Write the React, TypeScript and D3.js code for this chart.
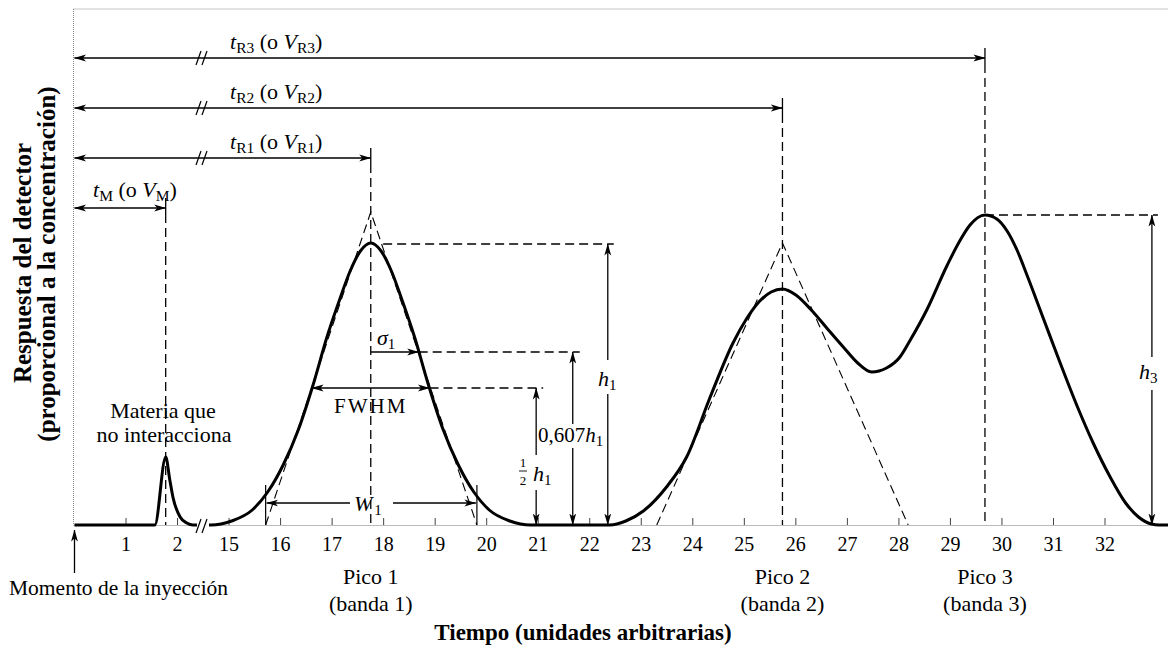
import React from "react";
import * as d3 from "d3";

const W = 1168;
const H = 647;
const FONT = "'Liberation Serif', 'Times New Roman', serif";

// x axis tick values (time axis is broken between 2 and 15)
const tickTimes = [1, 2, 15, 16, 17, 18, 19, 20, 21, 22, 23, 24, 25, 26, 27, 28, 29, 30, 31, 32];

// detector response
const curveTimes = [
  0, 1.56, 1.77, 1.85, 1.91, 2.05, 2.18, 2.3,
  14.65, 15.05, 15.45, 15.75, 16.05, 16.35, 16.63, 16.9, 17.15, 17.35, 17.55, 17.75,
  17.95, 18.15, 18.35, 18.6, 18.87, 19.15, 19.45, 19.75, 20.05, 20.45, 20.85,
  22.39, 22.7, 23.04, 23.49, 23.88, 24.33, 24.78, 25.04, 25.3, 25.52, 25.74,
  26.0, 26.3, 26.6, 26.92, 27.2, 27.47, 27.76, 28.02, 28.21, 28.54, 28.93, 29.18, 29.38, 29.67,
  29.9, 30.1, 30.3, 30.5, 30.8, 31.13, 31.45, 31.77, 32.1, 32.4, 32.65, 32.9, 33.05, 33.3,
];
const curveResponse = [
  0, 0, 68, 45, 28, 8, 2, 0,
  0, 4, 15, 33, 60, 96, 140, 188, 226, 254, 274, 282,
  274, 254, 226, 188, 140, 96, 60, 33, 15, 4, 0,
  0, 4, 14, 38, 68, 127, 182, 206, 224, 233, 236,
  230, 215, 197, 178, 162, 153, 157, 168, 184, 215, 259, 284, 300, 310,
  306, 294, 274, 248, 207, 162, 120, 82, 48, 22, 8, 1, 0, 0,
];

// peaks
const peakNames = ["Pico 1", "Pico 2", "Pico 3"];
const peakBands = ["(banda 1)", "(banda 2)", "(banda 3)"];
const tM = 1.77;
const retentionTimes = [17.75, 25.74, 29.67];

// tangent triangles: apex height, left base, right base
const tangentApex = [313, 282];
const tangentCenters = [17.75, 25.74];
const tangentLeft = [15.71, 23.3];
const tangentRight = [19.81, 28.18];

// peak 1 measurements
const h1Level = 281;
const sigmaLevel = 173;
const halfLevel = 137;
const fwhmTimes = [16.61, 18.89];
const sigmaEnd = 18.68;
const w1Times = [15.71, 19.81];
const h3Level = 310;

export default function App() {
  const x = d3.scaleLinear().domain([0, 2.5, 14.5, 33.3]).range([74.5, 203.3, 203.3, 1172]);
  const y = d3.scaleLinear().domain([0, 320]).range([525, 205]);
  const line = d3
    .line<number>()
    .x((_, i) => x(curveTimes[i]))
    .y((_, i) => y(curveResponse[i]))
    .curve(d3.curveMonotoneX);
  const curvePath = line(curveTimes) || "";

  const base = y(0);
  const dash = "9 5";
  const sw = 1.3;

  const rows = [
    { key: "M", t: tM, ay: 208, lx: 93, sub: "M" },
    { key: "R1", t: retentionTimes[0], ay: 158, lx: 230, sub: "R1" },
    { key: "R2", t: retentionTimes[1], ay: 108, lx: 230, sub: "R2" },
    { key: "R3", t: retentionTimes[2], ay: 58, lx: 230, sub: "R3" },
  ];

  const xh1 = x(22.35);
  const x607 = x(21.67);
  const xhalf = x(20.96);
  const xh3 = x(32.91);

  const slash = (cx: number, cy: number, k: string) => (
    <g key={k} stroke="#000" strokeWidth={1.2}>
      <line x1={cx - 4} y1={cy + 7} x2={cx + 1} y2={cy - 7} />
      <line x1={cx + 2} y1={cy + 7} x2={cx + 7} y2={cy - 7} />
    </g>
  );

  return (
    <svg
      width={W}
      height={H}
      viewBox={`0 0 ${W} ${H}`}
      style={{ position: "absolute", left: 0, top: 0, background: "#fff" }}
      fontFamily={FONT}
    >
      <defs>
        <marker
          id="ah"
          viewBox="0 0 12 8"
          refX="11.5"
          refY="4"
          markerWidth="12"
          markerHeight="8"
          markerUnits="userSpaceOnUse"
          orient="auto-start-reverse"
        >
          <path d="M0,0.6 L12,4 L0,7.4 L3,4 Z" fill="#000" />
        </marker>
      </defs>
      <rect x={0} y={0} width={W} height={H} fill="#fff" />

      {/* frame */}
      <line x1={73.5} y1={9} x2={W} y2={9} stroke="#888" strokeWidth={1} strokeDasharray="1 1" />
      <line x1={73.5} y1={9} x2={73.5} y2={base} stroke="#888" strokeWidth={1} strokeDasharray="1 1" />
      <line x1={73.5} y1={base + 0.5} x2={W} y2={base + 0.5} stroke="#777" strokeWidth={1} strokeDasharray="1 1" />

      {/* ticks */}
      {tickTimes.map((t) => (
        <g key={"tk" + t}>
          <line x1={x(t)} y1={base - 7} x2={x(t)} y2={base} stroke="#444" strokeWidth={1} />
          <text x={x(t)} y={551} fontSize={20} textAnchor="middle">
            {t}
          </text>
        </g>
      ))}

      {/* retention arrows */}
      {rows.map((r) => (
        <g key={r.key}>
          <line
            x1={x(0)}
            y1={r.ay}
            x2={x(r.t)}
            y2={r.ay}
            stroke="#000"
            strokeWidth={1.4}
            markerStart="url(#ah)"
            markerEnd="url(#ah)"
          />
          <line x1={x(r.t)} y1={r.ay - 10} x2={x(r.t)} y2={r.ay + 6} stroke="#000" strokeWidth={sw} />
          <line
            x1={x(r.t)}
            y1={r.ay + 6}
            x2={x(r.t)}
            y2={base}
            stroke="#000"
            strokeWidth={sw}
            strokeDasharray={dash}
          />
          {r.key !== "M" && slash(200, r.ay, "s" + r.key)}
          <text x={r.lx} y={r.key === "M" ? r.ay - 11 : r.ay - 9} fontSize={22}>
            <tspan fontStyle="italic">t</tspan>
            <tspan fontSize={15.5} dy={4}>
              {r.sub}
            </tspan>
            <tspan dy={-4}> (o </tspan>
            <tspan fontStyle="italic">V</tspan>
            <tspan fontSize={15.5} dy={4}>
              {r.sub}
            </tspan>
            <tspan dy={-4}>)</tspan>
          </text>
        </g>
      ))}

      {/* tangent triangles */}
      {tangentApex.map((a, i) => (
        <path
          key={"tg" + i}
          d={`M${x(tangentLeft[i])},${base} L${x(tangentCenters[i])},${y(a)} L${x(tangentRight[i])},${base}`}
          fill="none"
          stroke="#000"
          strokeWidth={1.1}
          strokeDasharray={dash}
        />
      ))}

      {/* peak 1 measurements */}
      <line x1={x(17.99)} y1={y(h1Level)} x2={xh1 + 6} y2={y(h1Level)} stroke="#000" strokeWidth={sw} strokeDasharray={dash} />
      <line x1={x(sigmaEnd)} y1={y(sigmaLevel)} x2={x607 + 7} y2={y(sigmaLevel)} stroke="#000" strokeWidth={sw} strokeDasharray={dash} />
      <line x1={x(fwhmTimes[1])} y1={y(halfLevel)} x2={xhalf + 7} y2={y(halfLevel)} stroke="#000" strokeWidth={sw} strokeDasharray={dash} />

      {/* sigma arrow */}
      <line x1={x(retentionTimes[0])} y1={y(sigmaLevel)} x2={x(sigmaEnd)} y2={y(sigmaLevel)} stroke="#000" strokeWidth={sw} markerEnd="url(#ah)" />
      <text x={377} y={345} fontSize={22}>
        <tspan fontStyle="italic">σ</tspan>
        <tspan fontSize={15} dy={4}>1</tspan>
      </text>

      {/* FWHM */}
      <line
        x1={x(fwhmTimes[0])}
        y1={y(halfLevel)}
        x2={x(fwhmTimes[1])}
        y2={y(halfLevel)}
        stroke="#000"
        strokeWidth={sw}
        markerStart="url(#ah)"
        markerEnd="url(#ah)"
      />
      <text x={x(retentionTimes[0])} y={413} fontSize={21} textAnchor="middle" letterSpacing={2}>
        FWHM
      </text>

      {/* W1 */}
      {w1Times.map((t, i) => (
        <line key={"wb" + i} x1={x(t)} y1={485} x2={x(t)} y2={base} stroke="#000" strokeWidth={1.2} />
      ))}
      <line x1={350} y1={503} x2={x(w1Times[0]) + 1} y2={503} stroke="#000" strokeWidth={sw} markerEnd="url(#ah)" />
      <line x1={393} y1={503} x2={x(w1Times[1]) - 1} y2={503} stroke="#000" strokeWidth={sw} markerEnd="url(#ah)" />
      <text x={354} y={511} fontSize={22}>
        <tspan fontStyle="italic">W</tspan>
        <tspan fontSize={15} dy={4} dx={2}>1</tspan>
      </text>

      {/* h1 arrow */}
      <line x1={xh1} y1={360} x2={xh1} y2={y(h1Level)} stroke="#000" strokeWidth={sw} markerEnd="url(#ah)" />
      <line x1={xh1} y1={394} x2={xh1} y2={base} stroke="#000" strokeWidth={sw} markerEnd="url(#ah)" />
      <text x={598} y={386} fontSize={22}>
        <tspan fontStyle="italic">h</tspan>
        <tspan fontSize={15} dy={4}>1</tspan>
      </text>

      {/* 0,607 h1 arrow */}
      <line x1={x607} y1={424} x2={x607} y2={y(sigmaLevel)} stroke="#000" strokeWidth={sw} markerEnd="url(#ah)" />
      <line x1={x607} y1={448} x2={x607} y2={base} stroke="#000" strokeWidth={sw} markerEnd="url(#ah)" />
      <text x={538} y={442} fontSize={21}>
        0,607<tspan fontStyle="italic">h</tspan>
        <tspan fontSize={15} dy={4}>1</tspan>
      </text>

      {/* 1/2 h1 arrow */}
      <line x1={xhalf} y1={455} x2={xhalf} y2={y(halfLevel)} stroke="#000" strokeWidth={sw} markerEnd="url(#ah)" />
      <line x1={xhalf} y1={490} x2={xhalf} y2={base} stroke="#000" strokeWidth={sw} markerEnd="url(#ah)" />
      <text x={523} y={467} fontSize={13} textAnchor="middle">1</text>
      <line x1={519} y1={471} x2={527} y2={471} stroke="#000" strokeWidth={0.9} />
      <text x={523} y={485} fontSize={13} textAnchor="middle">2</text>
      <text x={533} y={481} fontSize={22}>
        <tspan fontStyle="italic">h</tspan>
        <tspan fontSize={15} dy={4}>1</tspan>
      </text>

      {/* h3 */}
      <line x1={x(retentionTimes[2])} y1={y(h3Level)} x2={xh3 + 6} y2={y(h3Level)} stroke="#000" strokeWidth={sw} strokeDasharray={dash} />
      <line x1={xh3} y1={357} x2={xh3} y2={y(h3Level)} stroke="#000" strokeWidth={sw} markerEnd="url(#ah)" />
      <line x1={xh3} y1={390} x2={xh3} y2={base} stroke="#000" strokeWidth={sw} markerEnd="url(#ah)" />
      <text x={1139} y={379} fontSize={22}>
        <tspan fontStyle="italic">h</tspan>
        <tspan fontSize={15} dy={4}>3</tspan>
      </text>

      {/* detector curve */}
      <path d={curvePath} fill="none" stroke="#000" strokeWidth={3} strokeLinejoin="round" />

      {/* axis break */}
      <rect x={197} y={521} width={12} height={8} fill="#fff" />
      {slash(200, 526, "axisbreak")}

      {/* labels */}
      <text x={163} y={418} fontSize={22} textAnchor="middle">Materia que</text>
      <text x={164} y={442} fontSize={22} textAnchor="middle">no interacciona</text>

      <line x1={x(0)} y1={573} x2={x(0)} y2={530} stroke="#000" strokeWidth={1.3} markerEnd="url(#ah)" />
      <text x={9} y={595} fontSize={21.5}>Momento de la inyección</text>

      {peakNames.map((n, i) => (
        <g key={n}>
          <text x={x(retentionTimes[i])} y={584} fontSize={22} textAnchor="middle">{n}</text>
          <text x={x(retentionTimes[i])} y={611} fontSize={22} textAnchor="middle">{peakBands[i]}</text>
        </g>
      ))}

      <text x={583} y={640} fontSize={23} fontWeight="bold" textAnchor="middle">
        Tiempo (unidades arbitrarias)
      </text>

      <text transform="translate(31,263) rotate(-90)" fontSize={25} fontWeight="bold" textAnchor="middle">
        Respuesta del detector
      </text>
      <text transform="translate(55,264) rotate(-90)" fontSize={25} fontWeight="bold" textAnchor="middle">
        (proporcional a la concentración)
      </text>
    </svg>
  );
}
